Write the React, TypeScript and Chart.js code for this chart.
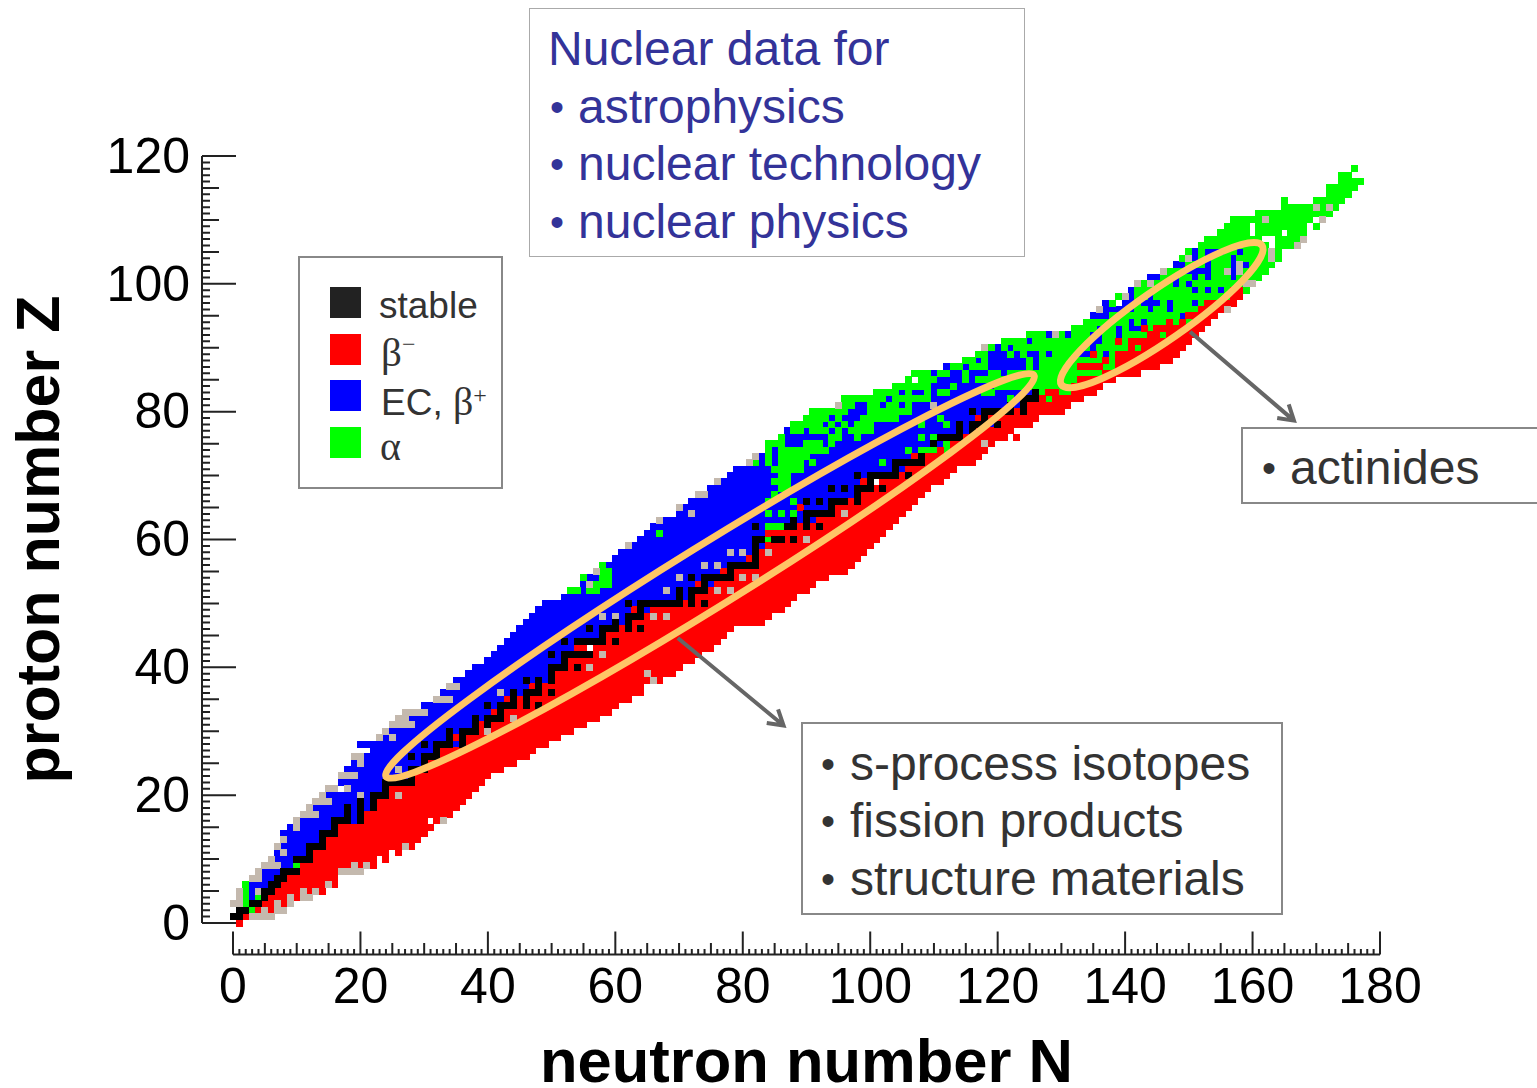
import React, { useEffect, useRef } from "react";
import { Chart, registerables } from "chart.js";

Chart.register(...registerables);

type Run = number[]; // [Z, firstN, lastN]

const ecRuns: Run[] = [[4,3,3],[5,3,3],[6,3,5],[7,5,6],[8,5,7],[9,8,9],[10,7,9],[11,7,11],[12,8,11],[13,9,13],[14,8,13],[15,9,15],[16,11,19],[17,14,19],[18,13,21],[19,16,21],[20,15,21],[21,19,23],[22,17,23],[23,20,27],[24,18,27],[25,19,29],[26,21,29],[27,22,31],[28,20,35],[29,24,33],[30,25,35],[31,29,37],[32,28,39],[33,31,40],[34,30,41],[35,35,43],[36,33,45],[37,36,46],[38,35,49],[39,37,49],[40,38,49],[41,40,51],[42,41,51],[43,42,53],[44,43,53],[45,44,57],[46,45,57],[47,46,61],[48,47,61],[49,48,65],[50,49,63],[51,52,71],[52,55,71],[53,55,75],[54,56,73],[55,60,76],[56,59,77],[57,60,80],[58,61,81],[59,63,83],[60,64,81],[61,65,83],[62,66,83],[63,68,91],[64,70,89],[65,71,93],[66,72,93],[67,75,97],[68,75,97],[69,77,98],[70,78,99],[71,79,105],[72,83,103],[73,83,106],[74,85,107],[75,87,111],[76,87,109],[77,87,115],[78,93,119],[79,94,116],[80,97,122],[81,98,123],[82,103,123],[83,105,125],[84,110,119],[85,111,116],[86,110,121],[87,112,126],[88,117,126],[89,119,128],[90,120,122],[91,125,125],[92,128,128],[92,131,131]];

const alphaRuns: Run[] = [[2,3,3],[3,2,2],[4,2,2],[4,4,4],[5,2,2],[6,2,2],[9,10,10],[52,53,54],[52,56,57],[53,57,59],[54,55,55],[54,58,59],[55,58,59],[56,58,58],[60,84,84],[61,67,67],[62,84,86],[64,84,84],[64,86,86],[64,88,88],[66,84,84],[66,88,88],[67,85,85],[68,86,87],[69,85,87],[70,86,87],[71,85,89],[72,82,82],[72,84,84],[72,86,89],[72,91,91],[72,102,102],[73,84,84],[73,86,90],[74,84,84],[74,86,93],[74,106,106],[74,108,110],[74,112,112],[75,84,86],[75,90,92],[75,94,94],[75,112,112],[76,86,86],[76,94,95],[76,98,98],[76,108,108],[76,110,110],[77,88,89],[77,91,93],[77,95,95],[77,97,100],[78,88,92],[78,94,94],[78,96,96],[78,98,100],[78,108,108],[78,112,112],[79,90,93],[79,95,95],[79,99,104],[79,111,111],[80,91,96],[80,100,106],[81,96,97],[81,100,101],[81,103,104],[81,106,106],[82,96,102],[82,104,109],[82,122,122],[82,128,128],[83,101,104],[83,106,106],[83,109,109],[83,111,112],[83,118,119],[83,127,127],[83,130,131],[84,104,109],[84,113,113],[84,120,131],[85,106,106],[85,108,110],[85,115,115],[85,117,132],[86,107,109],[86,111,112],[86,115,115],[86,119,120],[86,122,136],[87,113,114],[87,116,118],[87,125,125],[87,127,132],[87,137,138],[88,115,116],[88,118,118],[88,125,125],[88,127,138],[89,117,118],[89,122,122],[89,124,124],[89,127,127],[89,129,138],[90,119,119],[90,121,121],[90,123,142],[91,121,124],[91,126,140],[92,125,127],[92,130,130],[92,132,146],[93,132,144],[94,134,150],[95,135,149],[96,137,151],[97,137,138],[97,140,152],[98,139,156],[99,141,159],[100,143,158],[101,144,161],[102,147,162],[103,148,163],[104,149,164],[105,150,164],[106,152,162],[106,164,166],[107,153,161],[107,164,167],[108,155,159],[108,161,164],[108,166,168],[109,156,159],[109,161,168],[109,170,170],[110,157,161],[110,163,169],[111,161,172],[112,165,169],[112,171,171],[112,173,173],[113,165,165],[113,170,174],[114,172,175],[115,172,176],[116,174,177],[117,174,175],[118,176,176]];

const ecIslandRuns: Run[] = [[89,133,134],[89,137,137],[90,135,135],[91,135,136],[92,135,136],[92,139,139],[93,136,136],[93,139,139],[93,141,142],[94,141,141],[94,143,143],[95,135,137],[95,149,149],[96,137,141],[96,144,144],[96,147,147],[97,137,137],[97,140,141],[97,143,145],[97,147,147],[97,151,151],[98,141,141],[98,144,144],[99,141,141],[99,151,151],[99,153,153],[99,155,155],[100,148,148],[100,150,150],[101,144,145],[101,148,148],[101,151,151],[101,153,153],[101,157,157],[102,150,153],[102,157,157],[103,148,149],[103,153,153],[103,157,157],[103,159,159],[104,151,151],[104,153,153],[104,157,157],[105,151,151],[105,153,155],[105,158,158]];

const betaMinusRuns: Run[] = [[0,1,1],[1,2,2],[2,4,4],[2,6,6],[3,5,6],[3,8,8],[4,6,8],[4,10,10],[5,7,10],[5,12,12],[5,14,14],[6,8,14],[6,16,16],[7,9,16],[8,11,16],[9,11,18],[9,20,20],[9,22,22],[10,13,22],[10,24,24],[11,13,24],[11,26,26],[12,15,26],[12,28,28],[13,15,29],[14,17,30],[15,17,31],[16,21,30],[16,32,32],[17,21,34],[18,23,35],[19,23,36],[20,25,37],[21,25,38],[22,29,39],[23,29,40],[24,31,42],[25,31,44],[26,33,46],[27,33,47],[28,37,49],[29,35,35],[29,37,51],[30,39,53],[31,39,39],[31,41,55],[32,43,57],[33,41,41],[33,43,59],[34,45,45],[34,47,47],[34,49,60],[35,43,43],[35,45,45],[35,47,62],[36,49,49],[36,51,64],[37,47,47],[37,49,64],[38,51,67],[39,51,69],[40,53,53],[40,55,70],[41,53,72],[42,57,73],[43,54,55],[43,57,75],[44,59,59],[44,61,76],[45,59,77],[46,61,61],[46,63,63],[46,65,78],[47,63,83],[48,65,84],[49,63,63],[49,66,86],[50,71,71],[50,73,73],[50,75,87],[51,73,88],[52,75,90],[53,73,73],[53,76,91],[54,79,93],[55,77,77],[55,79,96],[56,83,97],[57,81,81],[57,83,98],[58,83,99],[59,84,100],[60,87,87],[60,89,101],[61,84,102],[62,89,89],[62,91,91],[62,93,103],[63,92,104],[64,95,105],[65,89,89],[65,95,106],[66,97,97],[66,99,107],[67,99,108],[68,101,101],[68,103,109],[69,99,99],[69,102,111],[70,105,105],[70,107,112],[71,106,113],[72,109,116],[73,107,107],[73,109,117],[74,111,111],[74,113,118],[75,113,119],[76,115,121],[76,123,123],[77,117,122],[78,121,125],[79,117,117],[79,119,126],[80,123,123],[80,125,130],[81,125,131],[82,127,127],[82,129,133],[83,128,129],[83,132,135],[84,132,136],[85,133,138],[86,137,142],[87,133,136],[87,139,145],[88,137,137],[88,139,147],[89,135,135],[89,139,148],[90,141,141],[90,143,149],[91,139,139],[91,141,150],[92,144,145],[92,147,151],[93,143,143],[93,145,152],[94,147,147],[94,149,149],[94,151,153],[95,150,154],[96,152,155],[97,153,157],[98,157,158],[99,157,158]];

const otherRuns: Run[] = [[1,3,6],[2,5,5],[2,7,8],[3,0,1],[3,7,7],[3,9,9],[4,1,1],[4,9,9],[4,11,12],[5,1,1],[5,4,4],[5,11,11],[5,13,13],[6,15,15],[7,3,4],[8,4,4],[8,17,20],[9,5,7],[9,19,19],[9,21,21],[10,6,6],[11,8,8],[12,7,7],[12,27,27],[13,8,8],[15,10,10],[16,10,10],[16,33,33],[17,11,13],[18,12,12],[19,13,15],[20,14,14],[20,20,20],[20,26,26],[21,15,16],[21,18,18],[23,17,19],[24,26,26],[25,20,20],[26,19,20],[29,23,23],[29,25,25],[30,24,24],[30,40,40],[31,25,28],[32,26,27],[32,44,44],[33,27,30],[35,32,34],[36,42,42],[37,34,35],[38,66,66],[39,65,65],[40,56,56],[42,58,58],[48,58,58],[48,60,60],[48,66,66],[48,68,68],[52,68,68],[52,76,76],[52,78,78],[53,56,56],[54,70,70],[54,80,80],[54,82,82],[55,57,57],[56,74,74],[56,76,76],[58,78,78],[58,80,80],[58,84,84],[59,62,62],[60,90,90],[63,67,67],[64,72,72],[64,96,96],[65,70,70],[67,73,74],[69,76,76],[72,81,81],[73,82,82],[75,118,118],[81,95,95],[81,110,110],[90,118,118],[92,129,129],[96,136,136],[96,156,156],[98,140,140],[100,142,142],[100,144,144],[100,159,160],[102,146,146],[102,156,156],[102,158,158],[103,158,158],[104,150,150],[104,163,163],[105,163,163],[106,167,167],[107,168,168],[110,162,162],[110,171,171],[112,170,170],[112,172,172]];

const stableRuns: Run[] = [[1,0,1],[2,1,2],[3,3,4],[4,5,5],[5,5,6],[6,6,7],[7,7,8],[8,8,10],[10,10,12],[11,12,12],[12,12,14],[13,14,14],[14,14,16],[15,16,16],[16,16,18],[16,20,20],[17,18,18],[17,20,20],[18,18,18],[18,20,20],[18,22,22],[19,20,20],[19,22,22],[20,22,24],[21,24,24],[22,24,28],[23,28,28],[24,28,30],[25,30,30],[26,28,28],[26,30,32],[27,32,32],[28,30,30],[28,32,34],[28,36,36],[29,34,34],[29,36,36],[30,34,34],[30,36,38],[31,38,38],[31,40,40],[32,38,38],[32,40,42],[33,42,42],[34,40,40],[34,42,44],[34,46,46],[34,48,48],[35,44,44],[35,46,46],[36,44,44],[36,46,48],[36,50,50],[37,48,48],[38,46,46],[38,48,48],[38,50,50],[39,50,50],[40,50,52],[40,54,54],[41,52,52],[42,50,50],[42,52,56],[44,52,52],[44,54,58],[44,60,60],[45,58,58],[46,56,56],[46,58,60],[46,62,62],[46,64,64],[47,60,60],[47,62,62],[48,62,64],[49,64,64],[50,62,62],[50,64,70],[50,72,72],[50,74,74],[51,70,70],[51,72,72],[52,70,70],[52,72,74],[53,74,74],[54,72,72],[54,74,78],[55,78,78],[56,78,82],[57,82,82],[58,82,82],[59,82,82],[60,82,83],[60,85,86],[60,88,88],[62,82,82],[62,87,88],[62,90,90],[62,92,92],[63,88,88],[63,90,90],[64,90,94],[65,94,94],[66,90,90],[66,92,92],[66,94,96],[66,98,98],[67,98,98],[68,94,94],[68,96,96],[68,98,100],[68,102,102],[69,100,100],[70,98,98],[70,100,104],[70,106,106],[71,104,104],[72,104,108],[73,108,108],[75,110,110],[76,111,114],[77,114,114],[77,116,116],[78,114,114],[78,116,118],[78,120,120],[79,118,118],[80,116,116],[80,118,122],[80,124,124],[81,122,122],[81,124,124],[82,124,126],[83,126,126]];

const xTickValues = [0, 20, 40, 60, 80, 100, 120, 140, 160, 180];
const yTickValues = [0, 20, 40, 60, 80, 100, 120];

const legendItems = [
  { color: "#222222", top: 287 },
  { color: "#ff0000", top: 334 },
  { color: "#0000ff", top: 380 },
  { color: "#00ff00", top: 427 },
];

function cellsByType() {
  const grid = new Map<string, { N: number; Z: number; kind: string }>();
  const paint = (runs: Run[], kind: string) => {
    for (const [z, a, b] of runs) {
      for (let n = a; n <= b; n++) grid.set(z + ":" + n, { N: n, Z: z, kind });
    }
  };
  paint(ecRuns, "ec");
  paint(alphaRuns, "alpha");
  paint(ecIslandRuns, "ec");
  paint(betaMinusRuns, "beta");
  paint(otherRuns, "other");
  paint(stableRuns, "stable");
  const out: Record<string, { x: number; y: number }[]> = { ec: [], alpha: [], beta: [], other: [], stable: [] };
  grid.forEach((c) => out[c.kind].push({ x: c.N, y: c.Z }));
  return out;
}

// Cells sit on the pixel grid so neighbours join without antialiased seams.
const snapCells = {
  id: "snapCells",
  afterDatasetsUpdate(chart: any) {
    chart.getSortedVisibleDatasetMetas().forEach((m: any) => {
      m.data.forEach((el: any) => {
        el.x = Math.floor(el.x) + 0.5;
        el.y = Math.floor(el.y) + 0.5;
      });
    });
  },
};

const annotations = {
  id: "annotations",
  afterDatasetsDraw(chart: any) {
    const { ctx, scales } = chart;
    const px = (n: number) => scales.x.getPixelForValue(n);
    const py = (z: number) => scales.y.getPixelForValue(z);
    ctx.save();

    // axes set apart from the plot, ticks turned inwards
    const axisY = py(0) + 31.5;
    const axisX = px(0) - 31;
    ctx.strokeStyle = "#222";
    ctx.lineWidth = 2;
    ctx.beginPath();
    ctx.moveTo(px(0), axisY);
    ctx.lineTo(px(180), axisY);
    for (let n = 0; n <= 180; n++) {
      const len = n % 20 === 0 ? 23 : n % 5 === 0 ? 11.5 : 5.5;
      ctx.moveTo(px(n), axisY);
      ctx.lineTo(px(n), axisY - len);
    }
    ctx.moveTo(axisX, py(0));
    ctx.lineTo(axisX, py(120));
    for (let z = 0; z <= 120; z++) {
      const len = z % 20 === 0 ? 34 : z % 5 === 0 ? 17 : 8;
      ctx.moveTo(axisX, py(z));
      ctx.lineTo(axisX + len, py(z));
    }
    ctx.stroke();

    // ellipses
    const ellipse = (n1: number, z1: number, n2: number, z2: number, minor: number) => {
      const x1 = px(n1), y1 = py(z1), x2 = px(n2), y2 = py(z2);
      ctx.beginPath();
      ctx.ellipse((x1 + x2) / 2, (y1 + y2) / 2, Math.hypot(x2 - x1, y2 - y1) / 2, minor, Math.atan2(y2 - y1, x2 - x1), 0, Math.PI * 2);
      ctx.strokeStyle = "#FFC566";
      ctx.lineWidth = 7;
      ctx.stroke();
    };
    ellipse(24, 22.9, 125.7, 85.7, 31);
    ellipse(130, 84.2, 161.5, 106, 25);

    // arrows
    const arrow = (n1: number, z1: number, n2: number, z2: number) => {
      const x1 = px(n1), y1 = py(z1), x2 = px(n2), y2 = py(z2);
      const a = Math.atan2(y2 - y1, x2 - x1);
      ctx.strokeStyle = "#666";
      ctx.lineWidth = 4;
      ctx.beginPath();
      ctx.moveTo(x1, y1);
      ctx.lineTo(x2, y2);
      ctx.moveTo(x2 - 17 * Math.cos(a - 0.55), y2 - 17 * Math.sin(a - 0.55));
      ctx.lineTo(x2, y2);
      ctx.lineTo(x2 - 17 * Math.cos(a + 0.55), y2 - 17 * Math.sin(a + 0.55));
      ctx.stroke();
    };
    arrow(69.8, 44.6, 86.4, 30.9);
    arrow(150.2, 92.5, 166.5, 78.6);
    ctx.restore();
  },
};

const sans = "'Liberation Sans', Arial, sans-serif";
const serif = "'Liberation Serif', serif";

function Box({ left, top, width, height, border }: any) {
  return <div style={{ position: "absolute", left, top, width, height, boxSizing: "border-box", border, background: "#fff" }} />;
}

function Line({ left, baseline, size, color, font, children }: any) {
  return (
    <div style={{ position: "absolute", left, top: baseline - size * 0.8465, fontFamily: font || sans, fontSize: size, lineHeight: 1 + "", color, whiteSpace: "nowrap" }}>
      {children}
    </div>
  );
}

function Bullet({ left, baseline, color }: any) {
  return <Line left={left} baseline={baseline - 3} size={40} color={color}>•</Line>;
}

export default function App() {
  const ref = useRef<HTMLCanvasElement>(null);
  useEffect(() => {
    const c = cellsByType();
    const ds = (label: string, data: any[], color: string) => ({
      label,
      data,
      backgroundColor: color,
      borderWidth: 0,
      pointStyle: "rect",
      pointRadius: 7 / Math.SQRT2,
      pointHoverRadius: 7 / Math.SQRT2,
      showLine: false,
      clip: false as const,
    });
    const chart = new Chart(ref.current as HTMLCanvasElement, {
      type: "scatter",
      data: {
        datasets: [
          ds("stable", c.stable, "#000000"),
          ds("other", c.other, "#c4b9ae"),
          ds("β−", c.beta, "#ff0000"),
          ds("α", c.alpha, "#00ff00"),
          ds("EC, β+", c.ec, "#0000ff"),
        ],
      },
      options: {
        animation: false,
        responsive: false,
        events: [],
        layout: { padding: { left: 0, right: 157, top: 156, bottom: 0 } },
        plugins: { legend: { display: false }, tooltip: { enabled: false } },
        scales: {
          x: {
            type: "linear",
            min: 0,
            max: 180,
            afterFit: (s: any) => { s.height = 165; },
            afterBuildTicks: (s: any) => { s.ticks = xTickValues.map((value) => ({ value })); },
            border: { display: false },
            grid: { display: false, drawTicks: false },
            ticks: { font: { family: sans, size: 50 }, color: "#000", padding: 36, maxRotation: 0, autoSkip: false },
            title: { display: true, text: "neutron number N", font: { family: sans, size: 61.5, weight: "bold", lineHeight: 0.74 }, color: "#000", padding: 0 },
          },
          y: {
            type: "linear",
            min: 0,
            max: 120,
            afterFit: (s: any) => { s.width = 233; },
            afterBuildTicks: (s: any) => { s.ticks = yTickValues.map((value) => ({ value })); },
            border: { display: false },
            grid: { display: false, drawTicks: false },
            ticks: { font: { family: sans, size: 50 }, color: "#000", padding: 43, autoSkip: false, labelOffset: 3 },
            title: { display: true, text: "proton number Z", font: { family: sans, size: 61, weight: "bold", lineHeight: 1.38 }, color: "#000", padding: 0 },
          },
        },
      },
      plugins: [snapCells, annotations],
    } as any);
    return () => chart.destroy();
  }, []);

  const navy = "#333399";
  const dark = "#333333";
  return (
    <div style={{ position: "absolute", left: 0, top: 0, width: 1537, height: 1088, overflow: "hidden", background: "#fff" }}>
      <canvas ref={ref} width={1537} height={1088} style={{ position: "absolute", left: 0, top: 0, width: 1537, height: 1088 }} />

      <Box left={529} top={8} width={496} height={249} border="1px solid #aaaaaa" />
      <Line left={548} baseline={66} size={48} color={navy}>Nuclear data for</Line>
      <Bullet left={550} baseline={124} color={navy} />
      <Line left={578} baseline={124} size={48} color={navy}>astrophysics</Line>
      <Bullet left={550} baseline={181} color={navy} />
      <Line left={578} baseline={181} size={48} color={navy}>nuclear technology</Line>
      <Bullet left={550} baseline={239} color={navy} />
      <Line left={578} baseline={239} size={48} color={navy}>nuclear physics</Line>

      <Box left={298} top={256} width={205} height={233} border="2px solid #888888" />
      {legendItems.map((it) => (
        <div key={it.color} style={{ position: "absolute", left: 330, top: it.top, width: 31, height: 31, background: it.color }} />
      ))}
      <Line left={379} baseline={318} size={37} color={dark}>stable</Line>
      <Line left={381} baseline={367} size={41} color={dark} font={serif}>β<span style={{ fontSize: 24, position: "relative", top: -14 }}>−</span></Line>
      <Line left={381} baseline={413} size={37} color={dark}>EC, <span style={{ fontFamily: serif, fontSize: 40 }}>β</span><span style={{ fontFamily: serif, fontSize: 24, position: "relative", top: -12 }}>+</span></Line>
      <Line left={380} baseline={461} size={40} color={dark} font={serif}>α</Line>

      <Box left={801} top={722} width={482} height={193} border="2px solid #888888" />
      <Bullet left={821} baseline={781} color={dark} />
      <Line left={850} baseline={781} size={48} color={dark}>s-process isotopes</Line>
      <Bullet left={821} baseline={838} color={dark} />
      <Line left={850} baseline={838} size={48} color={dark}>fission products</Line>
      <Bullet left={821} baseline={896} color={dark} />
      <Line left={850} baseline={896} size={48} color={dark}>structure materials</Line>

      <Box left={1241} top={427} width={340} height={77} border="2px solid #888888" />
      <Bullet left={1262} baseline={485} color={dark} />
      <Line left={1290} baseline={485} size={48} color={dark}>actinides</Line>
    </div>
  );
}
